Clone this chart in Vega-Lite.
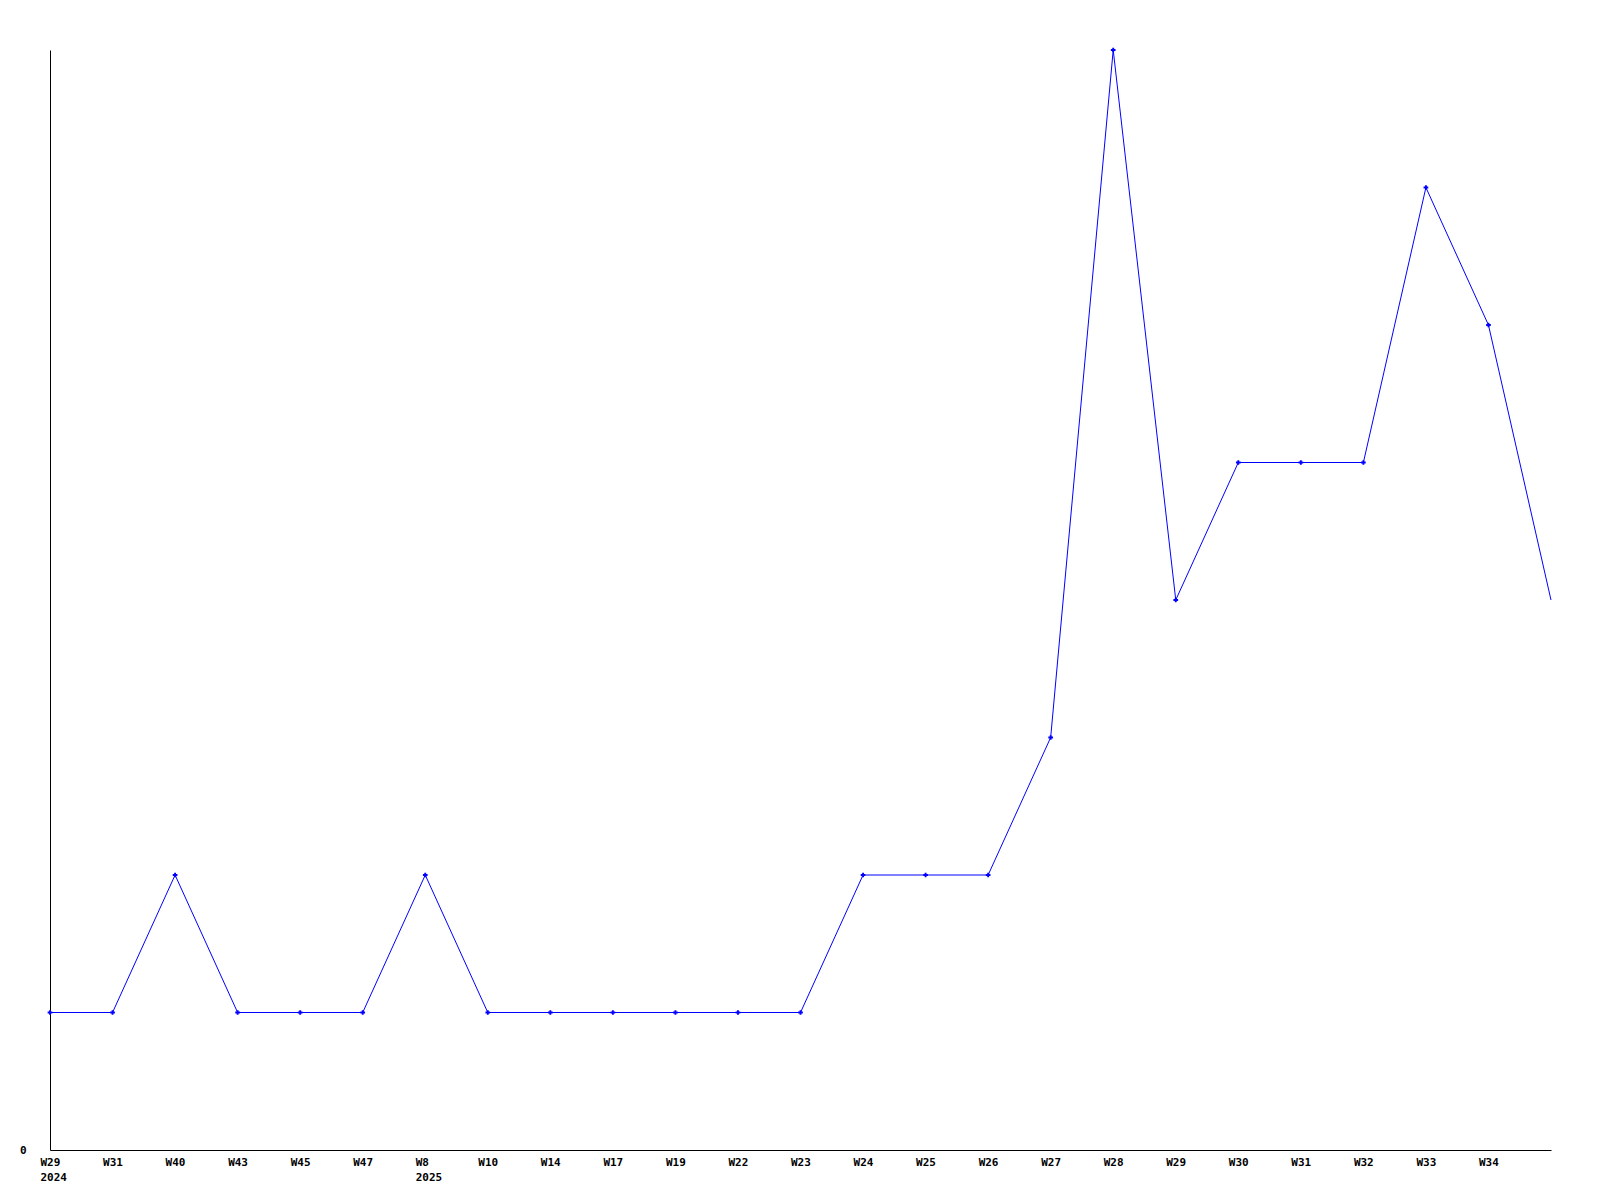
{
  "$schema": "https://vega.github.io/schema/vega-lite/v6.json",
  "autosize": "none",
  "width": 1501,
  "height": 1100,
  "padding": {"left": 50, "top": 50, "right": 49, "bottom": 50},
  "background": "white",
  "config": {"view": {"stroke": null}},
  "data": {"values": [
    {"week": "2024-W29", "value": 1},
    {"week": "2024-W31", "value": 1},
    {"week": "2024-W40", "value": 2},
    {"week": "2024-W43", "value": 1},
    {"week": "2024-W45", "value": 1},
    {"week": "2024-W47", "value": 1},
    {"week": "2025-W8", "value": 2},
    {"week": "2025-W10", "value": 1},
    {"week": "2025-W14", "value": 1},
    {"week": "2025-W17", "value": 1},
    {"week": "2025-W19", "value": 1},
    {"week": "2025-W22", "value": 1},
    {"week": "2025-W23", "value": 1},
    {"week": "2025-W24", "value": 2},
    {"week": "2025-W25", "value": 2},
    {"week": "2025-W26", "value": 2},
    {"week": "2025-W27", "value": 3},
    {"week": "2025-W28", "value": 8},
    {"week": "2025-W29", "value": 4},
    {"week": "2025-W30", "value": 5},
    {"week": "2025-W31", "value": 5},
    {"week": "2025-W32", "value": 5},
    {"week": "2025-W33", "value": 7},
    {"week": "2025-W34", "value": 6},
    {"week": "2025-W35", "value": 4}
  ]},
  "encoding": {
    "x": {
      "field": "week", "type": "ordinal", "sort": null,
      "scale": {"type": "point", "padding": 0},
      "axis": {
        "title": null, "labelAngle": 0, "ticks": false, "domainColor": "black", "domainWidth": 1,
        "labelFont": "DejaVu Sans Mono", "labelFontWeight": "bold", "labelFontSize": 11, "labelColor": "black",
        "labelPadding": 6, "labelLineHeight": 15, "labelAlign": "left", "labelOffset": -10, "labelOverlap": false,
        "labelExpr": "datum.value == '2024-W29' ? ['W29','2024'] : datum.value == '2025-W8' ? ['W8','2025'] : datum.value == '2025-W35' ? '' : split(datum.value, '-')[1]"
      }
    },
    "y": {
      "field": "value", "type": "quantitative",
      "scale": {"domain": [0, 8], "nice": false},
      "axis": {
        "title": null, "values": [0], "ticks": false, "grid": false, "domainColor": "black",
        "labelFont": "DejaVu Sans Mono", "labelFontWeight": "bold", "labelFontSize": 11, "labelColor": "black",
        "labelPadding": 24
      }
    }
  },
  "layer": [
    {"mark": {"type": "line", "color": "#0000ff", "strokeWidth": 1}},
    {
      "transform": [{"filter": "datum.week != '2025-W35'"}],
      "mark": {"type": "point", "shape": "cross", "filled": true, "color": "#0000ff", "size": 22, "opacity": 1}
    }
  ]
}
